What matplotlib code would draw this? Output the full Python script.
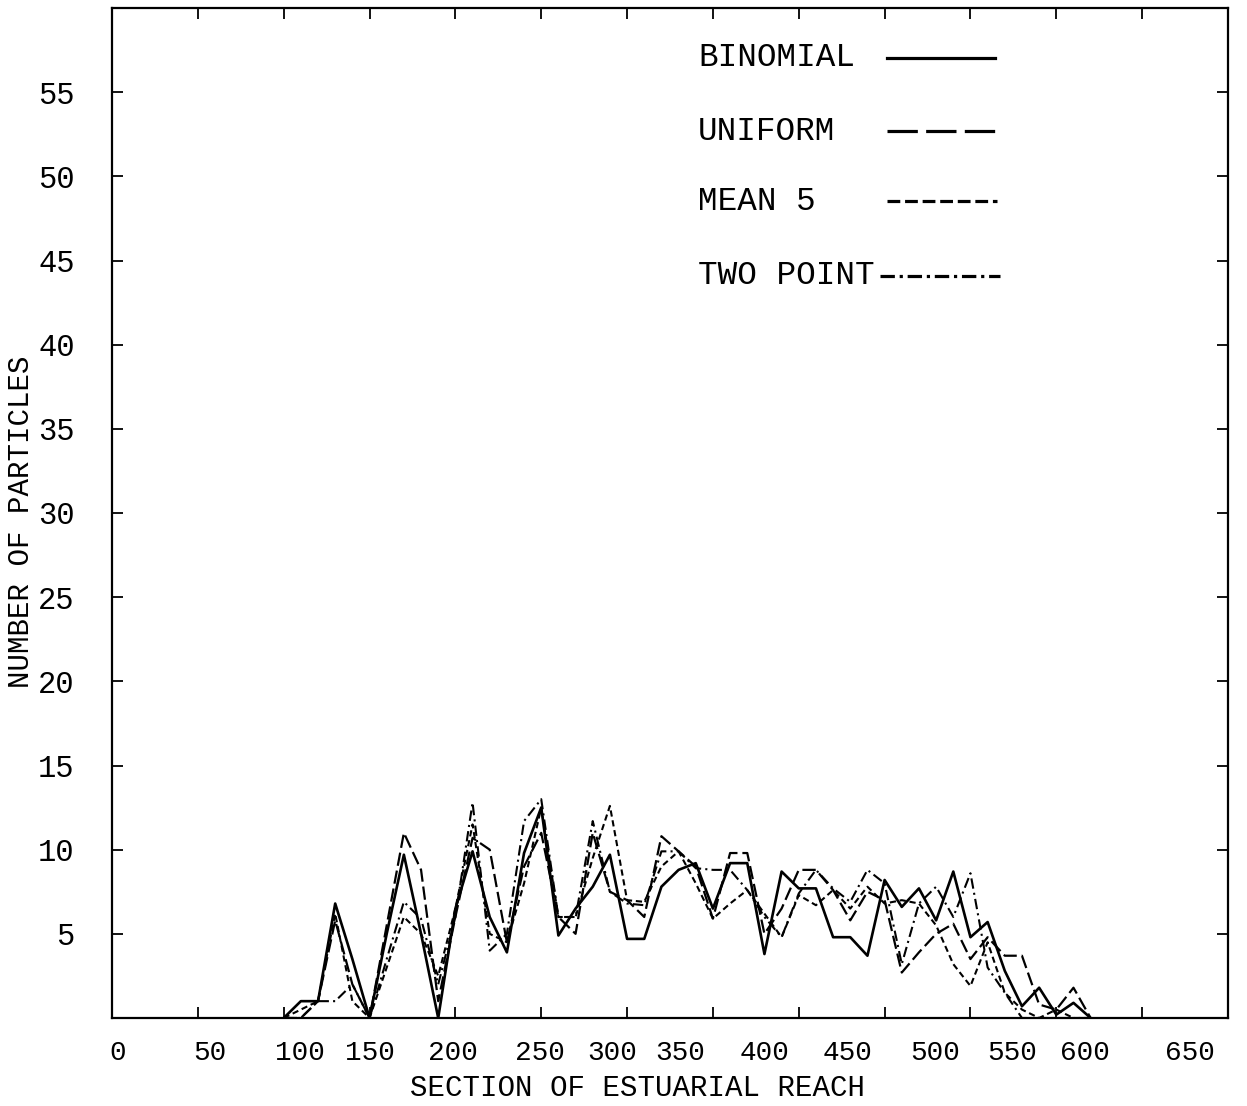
import matplotlib
matplotlib.use("Agg")
import matplotlib.pyplot as plt
from matplotlib.lines import Line2D

plt.rcParams['font.family'] = ['Liberation Mono', 'DejaVu Sans Mono']

# ---- data ----
sections = [100, 110, 120, 130, 140, 150, 160, 170, 180, 190,
            200, 210, 220, 230, 240, 250, 260, 270, 280, 290,
            300, 310, 320, 330, 340, 350, 360, 370, 380, 390,
            400, 410, 420, 430, 440, 450, 460, 470, 480, 490,
            500, 510, 520, 530, 540, 550, 560, 570]

binomial = [0, 1, 1, 6.8, 3.5, 0, 5, 9.7, 5, 0,
            6.5, 9.9, 6, 3.9, 9.8, 12.5, 4.9, 6.5, 7.8, 9.7,
            4.7, 4.7, 7.8, 8.8, 9.2, 6.5, 9.2, 9.2, 3.8, 8.7,
            7.7, 7.7, 4.8, 4.8, 3.7, 8.2, 6.6, 7.7, 5.8, 8.7,
            4.8, 5.7, 2.8, 0.7, 1.8, 0.2, 0.9, 0]

uniform = [0, 0, 1, 5.8, 2, 0, 5.5, 11, 8.8, 1,
           6, 10.7, 10, 4.5, 9, 11, 6, 5, 11, 7.5,
           7, 6, 10.8, 9.9, 9, 5.9, 9.8, 9.8, 5, 6.5,
           8.8, 8.8, 7.6, 5.8, 7.5, 7.0, 2.7, 3.9, 5, 5.6,
           3.5, 4.8, 3.7, 3.7, 0.8, 0.5, 1.8, 0]

mean5 = [0, 0.5, 1, 6.2, 1, 0, 3, 6, 5, 2.5,
         6.5, 11.5, 5, 4.5, 8, 12.5, 6, 6, 9.5, 12.6,
         7, 6.9, 9, 9.9, 8, 5.9, 6.8, 7.6, 6.2, 4.8,
         7.3, 6.7, 7.6, 6.5, 7.8, 6.8, 7, 6.8, 5.5, 3.2,
         1.9, 4.5, 1.5, 0.5, 0, 0.5, 0, 0]

two_point = [0, 0, 1, 1, 2, 0, 3.5, 6.9, 5.9, 2,
             6, 12.8, 4, 5, 11.7, 13, 6, 6, 11.7, 7.5,
             6.8, 6.7, 9.9, 9.9, 8.9, 8.8, 8.8, 7.6, 6, 4.8,
             7.4, 8.8, 7.7, 6.9, 8.8, 8, 3.2, 6.8, 7.8, 6,
             8.6, 3, 1.5, 0, 0, 0, 0, 0]

series_names = ['BINOMIAL', 'UNIFORM', 'MEAN 5', 'TWO POINT']
x_ticks = [0, 50, 100, 150, 200, 250, 300, 350, 400, 450, 500, 550, 600, 650]
x_tick_labels = ['0', '50', '100', '150', '200', '250', '300', '350',
                 '400', '450', '500', '550', '600', '650']
y_ticks = [5, 10, 15, 20, 25, 30, 35, 40, 45, 50, 55]
x_title = 'SECTION OF ESTUARIAL REACH'
y_title = 'NUMBER OF PARTICLES'

# ---- plot ----
W, H = 1247, 1106
L, R, T, B = 112, 1228, 8, 1018
fig = plt.figure(figsize=(W / 100, H / 100), dpi=100)
ax = fig.add_axes([L / W, 1 - B / H, (R - L) / W, (B - T) / H])

styles = [
    dict(linestyle='-', linewidth=1.9),
    dict(linestyle=(0, (6, 2.2)), linewidth=1.6),
    dict(linestyle=(0, (3, 1.8)), linewidth=1.5),
    dict(linestyle=(0, (5, 2, 1, 2)), linewidth=1.5),
]
for vals, st, name in zip([binomial, uniform, mean5, two_point], styles, series_names):
    ax.plot(sections, vals, color='black', label=name, **st)

ax.set_xlim(0, 650)
ax.set_ylim(0, 60)

# tick marks at the true positions (no labels)
ax.set_xticks(x_ticks)
ax.set_xticklabels([''] * len(x_ticks))
# typed labels sit slightly off the marks in the original; show them as minor-tick labels
x_label_pixels = [118, 210, 300, 370, 453, 540, 612, 680, 765, 848, 935, 1012, 1085, 1190]
x_label_pos = [(p - L) / (R - L) * 650 for p in x_label_pixels]
ax.set_xticks(x_label_pos, minor=True)
ax.set_xticklabels(x_tick_labels, minor=True)
ax.tick_params(axis='x', which='minor', length=0, labelsize=20, pad=16,
               top=False, bottom=True)

ax.set_yticks(y_ticks)
ax.set_yticklabels([str(v) for v in y_ticks])

ax.tick_params(axis='both', which='major', direction='in', length=8, width=1.3,
               top=True, right=True)
ax.tick_params(axis='y', which='major', pad=27, labelsize=22)
for sp in ax.spines.values():
    sp.set_linewidth(1.6)

ax.set_xlabel(x_title, fontsize=21, va='center')
ax.xaxis.set_label_coords((637 - L) / (R - L), (B - 1088) / (B - T))
ax.set_ylabel(y_title, fontsize=21, va='center')
ax.yaxis.set_label_coords((21 - L) / (R - L), (B - 522) / (B - T))

# legend drawn as typed: label, then a sample of the line
leg_styles = [
    dict(linestyle='-', linewidth=2.3),
    dict(linestyle=(0, (9.5, 2.6)), linewidth=2.3),
    dict(linestyle=(0, (4, 1.5)), linewidth=2.3),
    dict(linestyle=(0, (4.5, 1.5, 1, 1.5)), linewidth=2.3),
]
leg_rows = [58, 131, 201, 276]
leg_line_x = [(887, 995), (887, 995), (887, 997), (880, 1000)]
for name, st, yr, (x0, x1) in zip(series_names, leg_styles, leg_rows, leg_line_x):
    ya = (B - yr) / (B - T)
    ax.text((698 - L) / (R - L), ya, name, transform=ax.transAxes,
            fontsize=23.5, ha='left', va='center')
    ax.add_line(Line2D([(x0 - L) / (R - L), (x1 - L) / (R - L)], [ya, ya],
                       transform=ax.transAxes, color='black', clip_on=False, **st))

fig.savefig('out.png', dpi=100, facecolor='white')
